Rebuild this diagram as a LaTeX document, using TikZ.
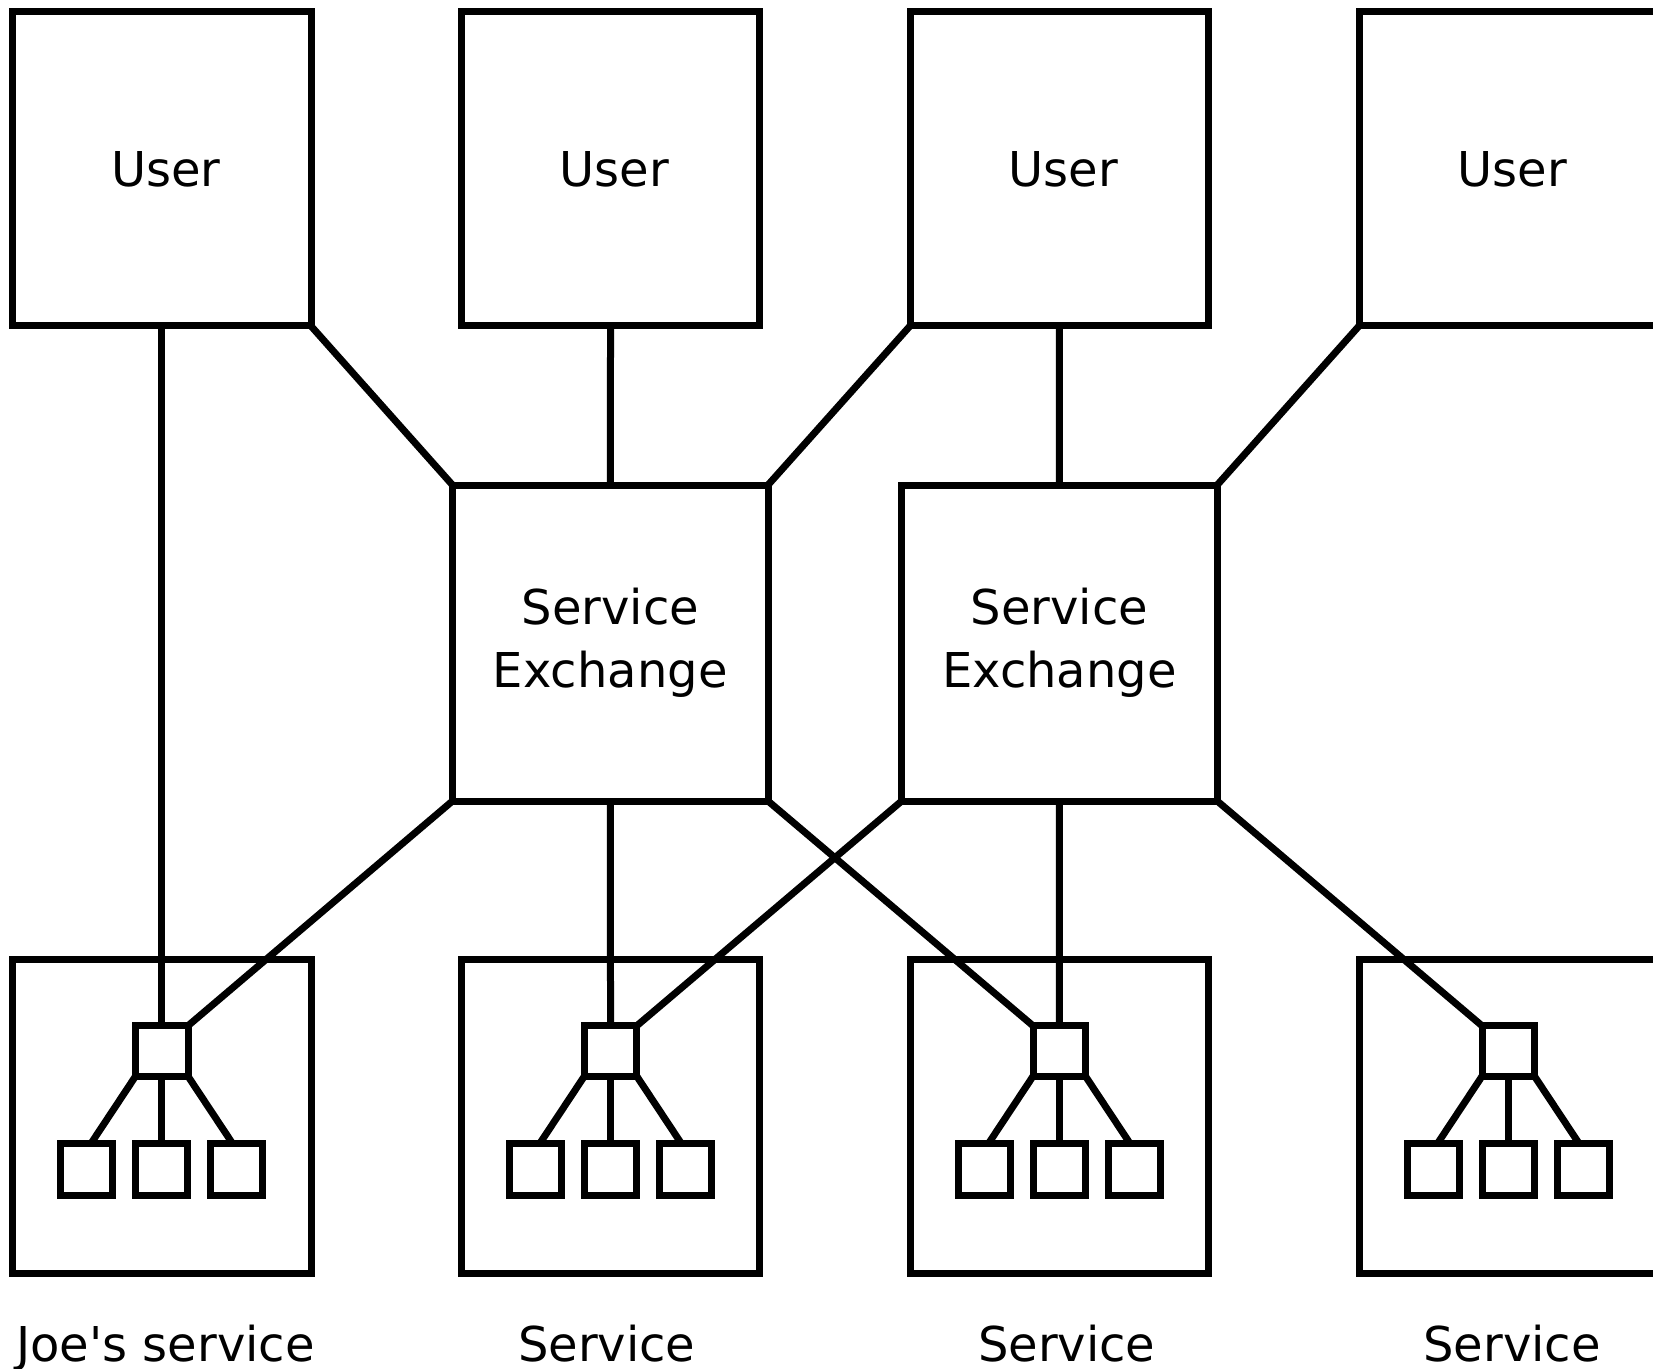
\documentclass[tikz,border=0pt]{standalone}
\usepackage{fontspec}
\setmainfont{DejaVu Sans}
\begin{document}
\begin{tikzpicture}[x=0.5pt,y=-0.5pt,
  every node/.style={outer sep=0pt,inner sep=0pt},
  frame/.style={draw,line width=3.5pt},
  userbox/.style={frame,minimum width=149.25pt,minimum height=157pt},
  exbox/.style={frame,minimum width=157.75pt,minimum height=158pt,align=center},
  svcbox/.style={frame,minimum width=149.25pt,minimum height=157.25pt},
  hubbox/.style={frame,minimum width=26.25pt,minimum height=25.25pt},
  leafbox/.style={frame,minimum width=25.8pt,minimum height=25.65pt},
  wire/.style={line width=3.5pt},
  txt/.style={font=\fontsize{24}{31.6}\selectfont}]
\clip (0,0) rectangle (1653,1369);
\fill[white] (0,0) rectangle (1653,1369);

% users, services, hubs and leaves, one column each
\foreach \i/\x in {1/161.75,2/610.55,3/1059.25,4/1508.25}{
  \node[userbox] (user\i) at (\x,169) {};
  \node[txt] (utext\i) at (\x+4,169) {User};
  \node[svcbox] (svc\i) at (\x,1116.25) {};
  \node[hubbox] (hub\i) at (\x,1051) {};
  \node[leafbox] (leafa\i) at (\x-75,1169.5) {};
  \node[leafbox] (leafb\i) at (\x,1169.5) {};
  \node[leafbox] (leafc\i) at (\x+75,1169.5) {};
  \draw[wire] (hub\i.south west) -- ([xshift=2pt]leafa\i.north);
  \draw[wire] (hub\i.south) -- (leafb\i.north);
  \draw[wire] (hub\i.south east) -- ([xshift=-2pt]leafc\i.north);
}

% exchanges
\node[exbox,txt] (se1) at (610.25,643) {Service\\Exchange};
\node[exbox,txt] (se2) at (1059.45,643) {Service\\Exchange};

% service labels
\node[txt,anchor=base] (lab1) at (165.5,1361) {Joe\textquotesingle s service};
\node[txt,anchor=base] (lab2) at (606.7,1361) {Service};
\node[txt,anchor=base] (lab3) at (1066.7,1361) {Service};
\node[txt,anchor=base] (lab4) at (1512,1361) {Service};

% connections
\draw[wire] (user1.south) -- (hub1.north);
\draw[wire] (user1.south east) -- (se1.north west);
\draw[wire] (user2.south) -- (se1.north);
\draw[wire] (user3.south west) -- (se1.north east);
\draw[wire] (user3.south) -- (se2.north);
\draw[wire] (user4.south west) -- (se2.north east);
\draw[wire] (se1.south west) -- (hub1.north east);
\draw[wire] (se1.south) -- (hub2.north);
\draw[wire] (se1.south east) -- (hub3.north west);
\draw[wire] (se2.south west) -- (hub2.north east);
\draw[wire] (se2.south) -- (hub3.north);
\draw[wire] (se2.south east) -- (hub4.north west);
\end{tikzpicture}
\end{document}
